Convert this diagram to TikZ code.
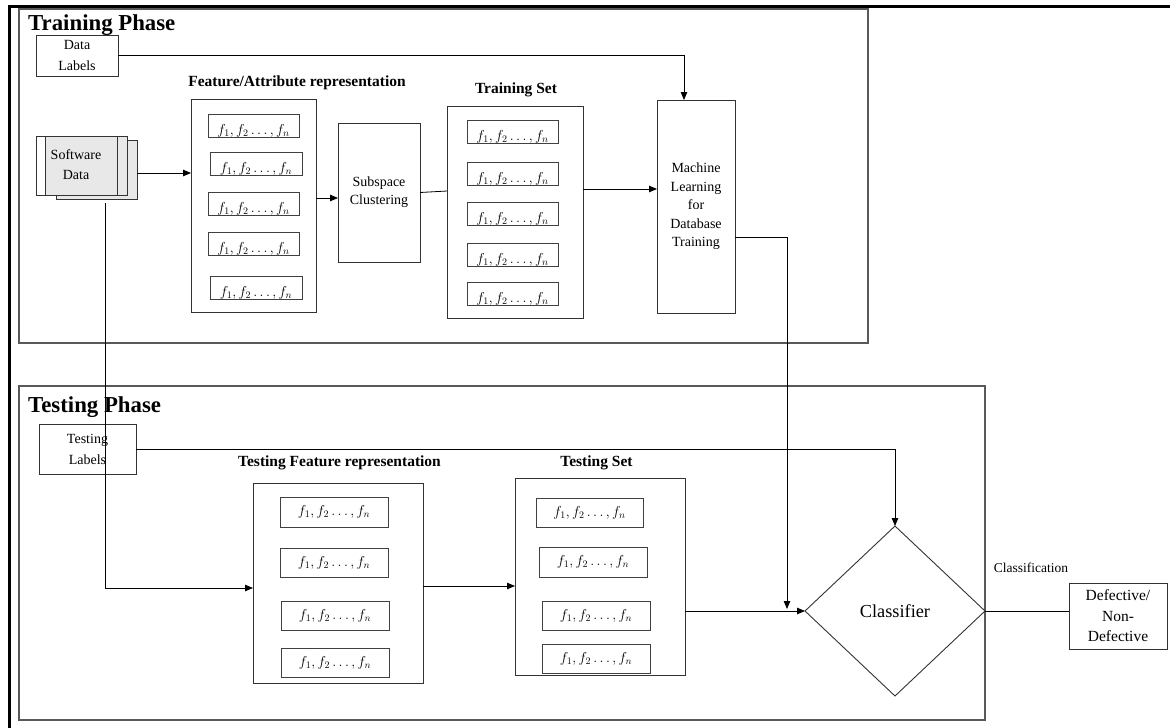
\documentclass[tikz,border=0pt]{standalone}
\usepackage{fontspec}
\setmainfont{Liberation Serif}
\usetikzlibrary{arrows.meta,shapes.geometric}
\begin{document}
\begin{tikzpicture}[x=1pt,y=-1pt,
  box/.style={draw=black!80, line width=0.9pt, inner sep=0pt, outer sep=0pt, align=center, font=\fontsize{14}{21}\selectfont},
  fitem/.style={draw=black!75, line width=0.9pt, inner sep=0pt, outer sep=0pt, font=\fontsize{14}{16}\selectfont},
  flow/.style={fitem, text height=20pt, text depth=3pt, minimum height=23},
  phase/.style={draw=black!65, line width=1.2pt, inner sep=0pt, outer sep=0pt},
  ttl/.style={font=\fontsize{22.8}{26}\selectfont\bfseries, anchor=base west, inner sep=0pt},
  lbl/.style={font=\fontsize{15.5}{18}\selectfont\bfseries, inner sep=0pt},
  arr/.style={-{Triangle[length=8pt,width=6.5pt]}, line width=0.8pt},
  ln/.style={line width=0.8pt},
]
\useasboundingbox (0,0) rectangle (1170,728);
\fill[white] (0,0) rectangle (1170,728);
% outer frame
\draw[line width=2.5pt] (9.3,728) -- (9.3,6.3) -- (1170,6.3);

% ---------- Training phase ----------
\node[phase, minimum width=849, minimum height=334] (trainph) at (443.5,176) {};
\node[ttl] (trainttl) at (28,30) {Training Phase};

\node[box, minimum width=82, minimum height=41] (dl) at (77,55.5) {Data\\Labels};

\node[box, fill=gray!18, minimum width=81, minimum height=59] (sdback) at (96.5,169.5) {};
\node[box, fill=gray!18, minimum width=91, minimum height=59] (sd) at (81.5,165.5) {};
\draw[line width=0.9pt, draw=black!80, fill=white] (sd.north west) rectangle ([xshift=9pt]sd.south west);
\draw[line width=0.9pt, draw=black!80] ([xshift=-10pt]sd.north east) -- ([xshift=-10pt]sd.south east);
\node[align=center, inner sep=0pt, font=\fontsize{14}{20}\selectfont] (sdtxt) at (76,165) {Software\\Data};

\node[lbl] (featlbl) at (297,83) {Feature/Attribute representation};
\node[box, minimum width=125, minimum height=213] (feat) at (253.5,205.5) {};
\node[flow, minimum width=91] (fa1) at (253.5,125.5) {$f_1, f_2 \ldots, f_n$};
\node[flow, minimum width=92] (fa2) at (256,163.5) {$f_1, f_2 \ldots, f_n$};
\node[flow, minimum width=91] (fa3) at (253.5,203.5) {$f_1, f_2 \ldots, f_n$};
\node[flow, minimum width=91] (fa4) at (253.5,243.5) {$f_1, f_2 \ldots, f_n$};
\node[flow, minimum width=92] (fa5) at (256,287.5) {$f_1, f_2 \ldots, f_n$};

\node[box, minimum width=82, minimum height=139, font=\fontsize{14}{18}\selectfont] (sub) at (379,192.5) {Subspace\\Clustering};

\node[lbl] (trlbl) at (516,90) {Training Set};
\node[box, minimum width=136, minimum height=212] (trset) at (515,212) {};
\node[flow, minimum width=91] (ts1) at (512.5,132) {$f_1, f_2 \ldots, f_n$};
\node[flow, minimum width=91] (ts2) at (512.5,173.5) {$f_1, f_2 \ldots, f_n$};
\node[flow, minimum width=91] (ts3) at (512.5,214) {$f_1, f_2 \ldots, f_n$};
\node[flow, minimum width=91] (ts4) at (512.5,254.5) {$f_1, f_2 \ldots, f_n$};
\node[flow, minimum width=91] (ts5) at (512.5,293.5) {$f_1, f_2 \ldots, f_n$};

\node[box, minimum width=78, minimum height=213, font=\fontsize{14}{18.5}\selectfont] (ml) at (696,206.5) {Machine\\Learning\\for\\Database\\Training};

% ---------- Testing phase ----------
\node[phase, minimum width=966, minimum height=334] (testph) at (502,553) {};
\node[ttl] (testttl) at (28,412) {Testing Phase};

\node[box, minimum width=97, minimum height=50] (tl) at (87.5,449) {Testing\\Labels};

\node[lbl] (tflbl) at (339.5,463) {Testing Feature representation};
\node[box, minimum width=170, minimum height=200] (tfeat) at (338,583) {};
\node[fitem, minimum width=108, minimum height=30] (tf1) at (334,512) {$f_1, f_2 \ldots, f_n$};
\node[fitem, minimum width=108, minimum height=29] (tf2) at (334,562.5) {$f_1, f_2 \ldots, f_n$};
\node[fitem, minimum width=108, minimum height=29] (tf3) at (335,615.5) {$f_1, f_2 \ldots, f_n$};
\node[fitem, minimum width=108, minimum height=29] (tf4) at (335,662.5) {$f_1, f_2 \ldots, f_n$};

\node[lbl] (tslbl) at (596.5,463) {Testing Set};
\node[box, minimum width=170, minimum height=197] (tset) at (600,576.5) {};
\node[fitem, minimum width=107, minimum height=29] (te1) at (589.5,512.5) {$f_1, f_2 \ldots, f_n$};
\node[fitem, minimum width=108, minimum height=30] (te2) at (593,562) {$f_1, f_2 \ldots, f_n$};
\node[fitem, minimum width=108, minimum height=29] (te3) at (596,615.5) {$f_1, f_2 \ldots, f_n$};
\node[fitem, minimum width=108, minimum height=29] (te4) at (596,658.5) {$f_1, f_2 \ldots, f_n$};

\node[diamond, draw=black!80, line width=0.9pt, inner sep=0pt, outer sep=0pt, minimum width=180, minimum height=170, font=\fontsize{18.3}{20}\selectfont] (cls) at (895,611) {Classifier};

\node[font=\fontsize{13.5}{16}\selectfont, inner sep=0pt] (clslbl) at (1031,568) {Classification};
\node[box, minimum width=98, minimum height=66, font=\fontsize{15.5}{20.5}\selectfont] (def) at (1118,616) {Defective/\\Non-\\Defective};

% ---------- connectors ----------
\draw[arr] (dl.east) -- (684,0 |- dl.east) -- (684,0 |- ml.north);
\coordinate (sdo) at ([yshift=-3.5pt]sdback.east);
\draw[arr] (sdo) -- (sdo -| feat.west);
\draw[arr] (feat.east |- 0,198) -- (sub.west |- 0,198);
\draw[ln] (sub.east) -- (trset.west |- 0,191);
\draw[arr] (trset.east |- 0,189) -- (ml.west |- 0,189);
\draw[arr] (ml.east |- 0,237) -- (787,237) -- (787,609);
\draw[arr] (105,203) -- (105,588) -- (105,588 -| tfeat.west);
\draw[arr] (tl.east) -| (cls.north);
\draw[arr] (tfeat.east |- 0,586) -- (tset.west |- 0,586);
\draw[arr] (tset.east |- cls.west) -- (cls.west);
\draw[ln] (cls.east) -- (cls.east -| def.west);
\end{tikzpicture}
\end{document}
